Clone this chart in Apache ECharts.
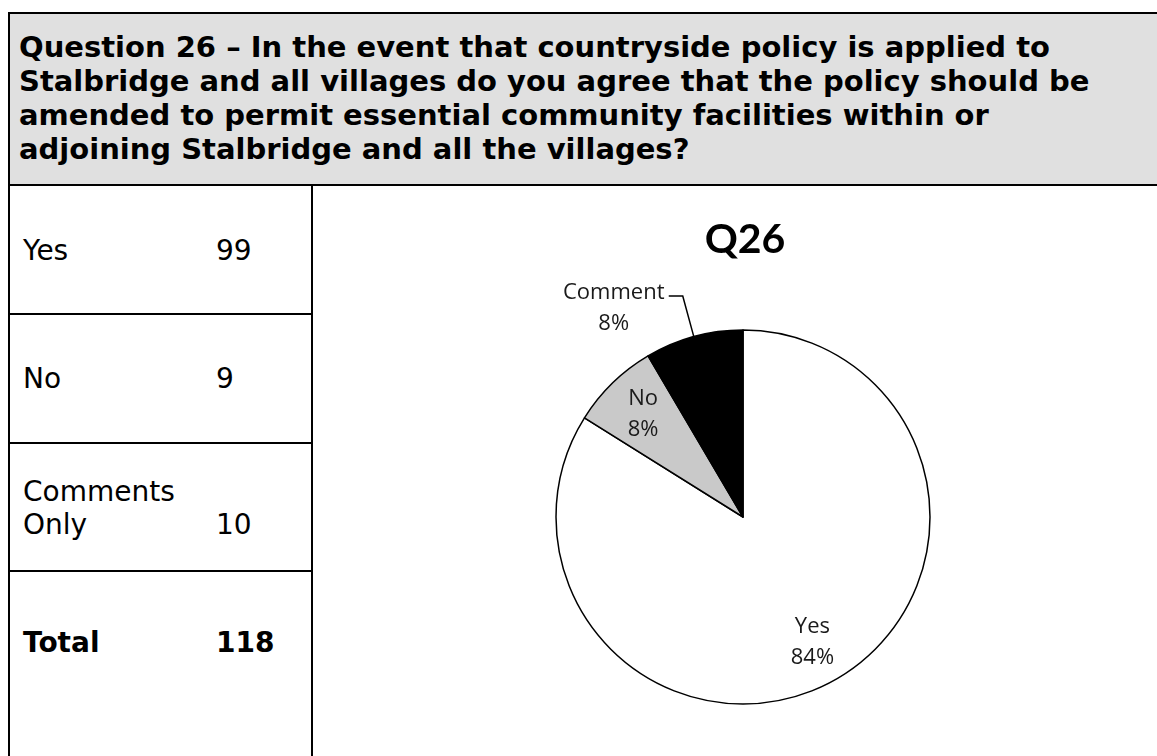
<!DOCTYPE html>
<html>
<head>
<meta charset="utf-8">
<title>Q26</title>
<script src="https://cdn.jsdelivr.net/npm/echarts@6/dist/echarts.min.js"></script>
<style>
  html, body { margin: 0; padding: 0; background: #fff; }
  #page { position: relative; width: 1157px; height: 756px; overflow: hidden; font-family: "DejaVu Sans", Verdana, sans-serif; color: #000; }
  .rule { position: absolute; background: #000; }
  #header { position: absolute; left: 8px; top: 12px; width: 1149px; height: 174px; background: #e0e0e0; }
  #headerText { position: absolute; left: 19px; top: 30px; font-weight: bold; font-size: 29px; line-height: 34px; white-space: pre; }
  .cell { position: absolute; font-size: 28px; line-height: 33px; white-space: pre; }
  .bold { font-weight: bold; }
  #chart { position: absolute; left: 0; top: 0; width: 1157px; height: 756px; }
</style>
</head>
<body>
<div id="page">
  <div id="header"></div>
  <div id="headerText"></div>
  <div id="table"></div>
  <div id="chart"></div>
</div>
<script>
// Survey question and response counts
const questionLines = [
  'Question 26 \u2013 In the event that countryside policy is applied to',
  'Stalbridge and all villages do you agree that the policy should be',
  'amended to permit essential community facilities within or',
  'adjoining Stalbridge and all the villages?'
];
const rowLabels = ['Yes', 'No', 'Comments\nOnly', 'Total'];
const rowValues = [99, 9, 10, 118];

const chartTitle = 'Q26';
const sliceNames = ['Yes', 'No', 'Comment'];
const sliceValues = [99, 9, 10];
const sliceColors = ['#ffffff', '#c9c9c9', '#000000'];

// ---- header and response table ----
document.getElementById('headerText').textContent = questionLines.join('\n');

const page = document.getElementById('page');
function rule(x, y, w, h) {
  const d = document.createElement('div');
  d.className = 'rule';
  d.style.left = x + 'px'; d.style.top = y + 'px';
  d.style.width = w + 'px'; d.style.height = h + 'px';
  page.appendChild(d);
}
rule(8, 12, 1149, 2);      // top frame
rule(8, 12, 2, 744);       // left frame
rule(8, 184, 1149, 2);     // header bottom
rule(311, 184, 2, 572);    // table column edge
const rowLineY = [313, 442, 570];
rowLineY.forEach(y => rule(8, y, 305, 2));

// text tops chosen so baselines sit centred in each row
const rowTextTop = [234, 362, 475, 626];
const table = document.getElementById('table');
rowLabels.forEach((lab, i) => {
  const isTotal = i === rowLabels.length - 1;
  const l = document.createElement('div');
  l.className = 'cell' + (isTotal ? ' bold' : '');
  l.style.left = '23px';
  l.style.top = rowTextTop[i] + 'px';
  l.textContent = lab;
  table.appendChild(l);
  const v = document.createElement('div');
  v.className = 'cell' + (isTotal ? ' bold' : '');
  v.style.left = '216px';
  const lines = lab.split('\n').length;
  v.style.top = (rowTextTop[i] + (lines - 1) * 33) + 'px';
  v.textContent = String(rowValues[i]);
  table.appendChild(v);
});

// ---- pie chart ----
const chart = echarts.init(document.getElementById('chart'), null, { renderer: 'canvas' });
const pieCenter = [743, 517];
const pieRadius = 187;
const labelFont = '"Open Sans", "Noto Sans", sans-serif';
const labelColor = '#1a1a1a';

const option = {
  backgroundColor: 'transparent',
  animation: false,
  title: {
    text: chartTitle,
    left: 740,
    top: 214,
    textAlign: 'center',
    textStyle: { fontFamily: 'Lato, "Open Sans", sans-serif', fontWeight: 'bold', fontSize: 41, color: '#000' }
  },
  series: [
    {
      // slices, with the outside label for the small black slice
      type: 'pie',
      center: pieCenter,
      radius: [0, pieRadius],
      startAngle: 90,
      clockwise: true,
      percentPrecision: 0,
      avoidLabelOverlap: false,
      emphasis: { disabled: true },
      itemStyle: { borderColor: '#000', borderWidth: 1.5 },
      labelLine: { show: true, length: 42, length2: 14, smooth: false, lineStyle: { color: '#000', width: 1.5 } },
      label: {
        show: true,
        position: 'outside',
        formatter: '{a|{b}}\n{a|{d}%}',
        padding: [24, 0, 0, 0],
        rich: { a: { width: 100, align: 'center', fontSize: 22, lineHeight: 31, fontFamily: labelFont, color: labelColor } }
      },
      data: sliceNames.map((n, i) => ({
        name: n,
        value: sliceValues[i],
        itemStyle: { color: sliceColors[i] },
        label: { show: i === 2 },
        labelLine: { show: i === 2 }
      }))
    },
    {
      // transparent ring that carries the inner labels at three quarters of the radius
      type: 'pie',
      center: pieCenter,
      radius: [pieRadius / 2, pieRadius],
      startAngle: 90,
      clockwise: true,
      percentPrecision: 0,
      silent: true,
      emphasis: { disabled: true },
      itemStyle: { color: 'rgba(0,0,0,0)', borderWidth: 0 },
      label: {
        show: true,
        position: 'inside',
        formatter: '{b}\n{d}%',
        fontSize: 22,
        lineHeight: 31,
        fontFamily: labelFont,
        color: labelColor
      },
      labelLine: { show: false },
      data: sliceNames.map((n, i) => ({
        name: n,
        value: sliceValues[i],
        label: { show: i !== 2 }
      }))
    }
  ]
};
chart.setOption(option);
</script>
</body>
</html>
